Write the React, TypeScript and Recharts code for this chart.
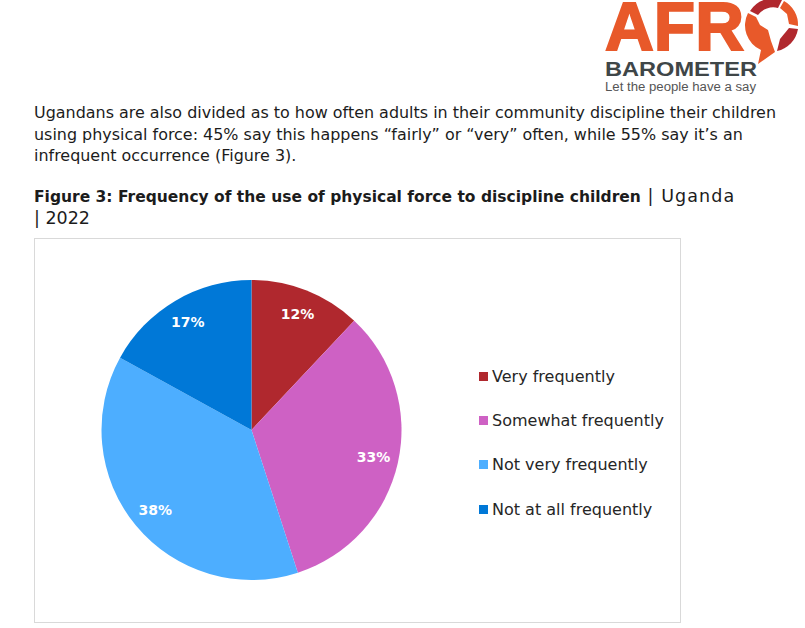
import { PieChart, Pie, Cell, Legend } from "recharts"

const categories = ["Very frequently", "Somewhat frequently", "Not very frequently", "Not at all frequently"]
const values = [12, 33, 38, 17]
const colors = ["#B0282E", "#CE61C4", "#4DAEFF", "#0078D7"]

const introLines = [
  "Ugandans are also divided as to how often adults in their community discipline their children",
  "using physical force: 45% say this happens “fairly” or “very” often, while 55% say it’s an",
  "infrequent occurrence (Figure 3).",
]

const chartData = categories.map((name, i) => ({ name, value: values[i] }))
const font = "'DejaVu Sans', sans-serif"
const RAD = Math.PI / 180

function renderLabel({ cx, cy, midAngle, outerRadius, value }: any) {
  const r = outerRadius - 25
  return (
    <text
      x={cx + r * Math.cos(-midAngle * RAD)}
      y={cy + r * Math.sin(-midAngle * RAD)}
      fill="#fff"
      fontFamily={font}
      fontWeight="bold"
      fontSize={14}
      textAnchor="middle"
      dominantBaseline="central"
    >
      {value}%
    </text>
  )
}

function renderLegend({ payload }: any) {
  return (
    <div>
      {(payload || []).map((item: any) => (
        <div key={item.value} style={{ height: 44.4, display: "flex", alignItems: "center", fontFamily: font, fontSize: 16, color: "#262626", whiteSpace: "nowrap" }}>
          <span style={{ width: 9, height: 9, background: item.color, marginRight: 4 }} />
          {item.value}
        </div>
      ))}
    </div>
  )
}

function Logo() {
  return (
    <svg width={215} height={100} style={{ position: "absolute", left: 590, top: 0 }}>
      <text x={15} y={50} fontFamily="'Liberation Sans', sans-serif" fontWeight="bold" fontSize={68} fill="#E8592A" stroke="#E8592A" strokeWidth={2} textLength={139} lengthAdjust="spacingAndGlyphs">AFR</text>
      <path d="M160 11 A 27 27 0 0 1 192 0 L 188 8 A 19 19 0 0 0 168 15 Z" fill="#B0282E" />
      <path d="M194 1 A 27 27 0 0 1 208 26 L 199 24 L 197 14 L 190 8 Z" fill="#E8592A" />
      <path d="M208 29 A 27 27 0 0 1 187 51 L 190 39 L 199 28 Z" fill="#B0282E" />
      <path d="M158 13 L 166 17 L 170 25 L 178 30 L 181 41 L 185 52 L 168 64 L 171 50 A 27 27 0 0 1 158 13 Z" fill="#E8592A" />
      <text x={15} y={76} fontFamily="'Liberation Sans', sans-serif" fontWeight="bold" fontSize={21} fill="#3F4648" textLength={152} lengthAdjust="spacingAndGlyphs">BAROMETER</text>
      <text x={15} y={91} fontFamily="'Liberation Sans', sans-serif" fontSize={12.5} fill="#555" textLength={151} lengthAdjust="spacingAndGlyphs">Let the people have a say</text>
    </svg>
  )
}

function Line({ top, size = 16, children }: any) {
  return (
    <div style={{ position: "absolute", left: 34, top, fontFamily: font, fontSize: size, color: "#1c1c1c", whiteSpace: "nowrap", lineHeight: "20px" }}>
      {children}
    </div>
  )
}

export default function App() {
  return (
    <div style={{ position: "absolute", left: 0, top: 0, width: 805, height: 628, background: "#fff", overflow: "hidden" }}>
      <Logo />
      {introLines.map((line, i) => (
        <Line key={line} top={103 + i * 21.5} size={15.95}>{line}</Line>
      ))}
      <Line top={186} size={17.5}>
        <b style={{ fontSize: 15.5 }}>Figure 3: Frequency of the use of physical force to discipline children</b>
        <span style={{ letterSpacing: 1.1 }}> | Uganda</span>
      </Line>
      <Line top={208} size={17.5}>| 2022</Line>
      <div style={{ position: "absolute", left: 34, top: 238, width: 645, height: 383, border: "1px solid #D9D9D9", boxSizing: "content-box" }} />
      <div style={{ position: "absolute", left: 0, top: 0 }}>
        <PieChart width={805} height={628} margin={{ top: 0, right: 0, bottom: 0, left: 0 }}>
          <Pie
            data={chartData}
            dataKey="value"
            nameKey="name"
            cx={251.5}
            cy={430}
            outerRadius={150}
            startAngle={90}
            endAngle={-270}
            stroke="none"
            label={renderLabel}
            labelLine={false}
            isAnimationActive={false}
          >
            {chartData.map((d, i) => (
              <Cell key={d.name} fill={colors[i]} />
            ))}
          </Pie>
          <Legend
            content={renderLegend}
            layout="vertical"
            itemSorter={null}
            wrapperStyle={{ position: "absolute", left: 479, top: 354, width: 200, bottom: "auto" }}
          />
        </PieChart>
      </div>
    </div>
  )
}
